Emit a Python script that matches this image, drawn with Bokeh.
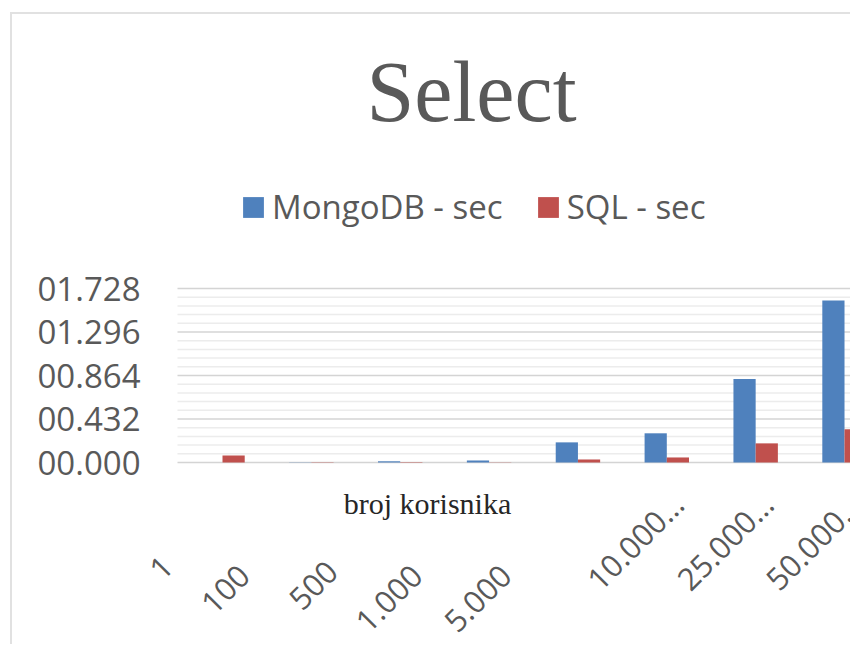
from math import pi
from bokeh.plotting import figure
from bokeh.models import (ColumnDataSource, Range1d, FixedTicker, Label, LabelSet,
                          Legend, LegendItem)
from bokeh.transform import dodge
from bokeh.core.properties import value
from bokeh.embed import file_html
from bokeh.resources import INLINE

# ---- data ----
categories = ["1", "100", "500", "1.000", "5.000", "10.000…", "25.000…", "50.000…"]
mongodb_sec = [0.0, 0.002, 0.012, 0.02, 0.20, 0.29, 0.83, 1.61]
sql_sec = [0.07, 0.003, 0.004, 0.002, 0.03, 0.05, 0.19, 0.33]
y_ticks = [0.0, 0.432, 0.864, 1.296, 1.728]
y_tick_labels = ["00.000", "00.432", "00.864", "01.296", "01.728"]
title_text = "Select"
x_title = "broj korisnika"
series_names = ["MongoDB - sec", "SQL - sec"]

# ---- styling / label placement (pixels) ----
label_dx = [-55, -67, -68, -72, -72, 11, 12, 12]
label_dy = [-99, -108, -104, -108, -108, -36, -36, -36]

BLUE = "#4f81bd"
RED = "#c0504d"
GREY = "#595959"

# geometry (page pixels)
CANVAS_X, CANVAS_Y, W, H = 12, 14, 840, 632
FRAME_L = 145            # frame left (page px)
AREA_L = 177             # plot-area left, where grid lines start
ZERO_Y = 462             # page y of value 0
TOP_Y = 288              # page y of top tick
CAT0_X = 222             # page x of first category centre
CAT_STEP = 88.86
ppu_y = (ZERO_Y - TOP_Y) / y_ticks[-1]
x_start = -(CAT0_X - FRAME_L) / CAT_STEP
x_end = (CANVAS_X + W - CAT0_X) / CAT_STEP
area_left = -(CAT0_X - AREA_L) / CAT_STEP
y_end = (ZERO_Y - CANVAS_Y) / ppu_y
y_start = -(CANVAS_Y + H - ZERO_Y) / ppu_y
FRAME_B = CANVAS_Y + H

idx = list(range(len(categories)))
src = ColumnDataSource(dict(x=idx, mongo=mongodb_sec, sql=sql_sec))
lab_src = ColumnDataSource(dict(x=idx, y=[0] * len(idx), text=categories,
                                dx=label_dx, dy=label_dy))

minor = []
for a, b in zip(y_ticks[:-1], y_ticks[1:]):
    for k in range(1, 5):
        minor.append(round(a + k * (b - a) / 5, 5))

p = figure(width=W, height=H, output_backend="svg", toolbar_location=None,
           x_axis_location=None, y_axis_location="left",
           x_range=Range1d(x_start, x_end), y_range=Range1d(y_start, y_end),
           min_border_left=FRAME_L - CANVAS_X, min_border_top=0, min_border_bottom=0,
           min_border_right=0)
p.margin = (12, 0, 0, 10)
p.styles = {"border-left": "2px solid #e1e1e1", "border-top": "2px solid #e1e1e1"}
p.outline_line_color = None
p.background_fill_color = "white"
p.border_fill_color = "white"
p.xgrid.visible = False
p.ygrid.visible = False

ticker = FixedTicker(ticks=y_ticks)
p.yaxis.ticker = ticker
p.yaxis.major_label_overrides = {t: s for t, s in zip(y_ticks, y_tick_labels)}
p.yaxis.axis_line_color = None
p.yaxis.major_tick_line_color = None
p.yaxis.minor_tick_line_color = None
p.yaxis.major_tick_out = 0
p.yaxis.minor_tick_out = 0
p.yaxis.major_label_standoff = 5
p.yaxis.major_label_text_font = "Open Sans"
p.yaxis.major_label_text_font_size = "33px"
p.yaxis.major_label_text_color = GREY

# horizontal grid lines, starting at the plot-area left edge
minor_src = ColumnDataSource(dict(y=minor))
major_src = ColumnDataSource(dict(y=y_ticks))
p.segment(x0=area_left, x1=x_end, y0="y", y1="y", source=minor_src,
          line_color="#ececec", line_width=1.5)
p.segment(x0=area_left, x1=x_end, y0="y", y1="y", source=major_src,
          line_color="#d4d4d4", line_width=1.5)

r1 = p.vbar(x=dodge("x", -0.125), top="mongo", width=0.25, source=src,
            fill_color=BLUE, line_color=None)
r2 = p.vbar(x=dodge("x", 0.125), top="sql", width=0.25, source=src,
            fill_color=RED, line_color=None)

legend = Legend(items=[LegendItem(label=series_names[0], renderers=[r1]),
                       LegendItem(label=series_names[1], renderers=[r2])],
                orientation="horizontal", location=(240 - FRAME_L, FRAME_B - 229),
                glyph_width=26, glyph_height=26, label_standoff=6, spacing=32,
                padding=0, margin=0, border_line_color=None,
                background_fill_alpha=0,
                label_text_font="Open Sans", label_text_font_size="33px",
                label_text_color=GREY)
p.add_layout(legend, "center")

p.add_layout(Label(x=471 - FRAME_L, y=FRAME_B - 122 + 31, x_units="screen", y_units="screen",
                   text=title_text, text_font="Liberation Serif", text_font_size="86px",
                   text_color=GREY, text_align="center", text_baseline="alphabetic"))

p.add_layout(Label(x=427 - FRAME_L, y=FRAME_B - 515 + 12, x_units="screen", y_units="screen",
                   text=x_title, text_font="Liberation Serif", text_font_size="30px",
                   text_color="#262626", text_align="center", text_baseline="alphabetic"))

p.add_layout(LabelSet(x="x", y="y", text="text", source=lab_src,
                      x_offset="dx", y_offset="dy", angle=pi / 4,
                      text_align="right", text_baseline="middle",
                      text_font=value("Open Sans"), text_font_size="31px",
                      text_color=GREY))

open("out.html", "w").write(file_html(p, INLINE))
